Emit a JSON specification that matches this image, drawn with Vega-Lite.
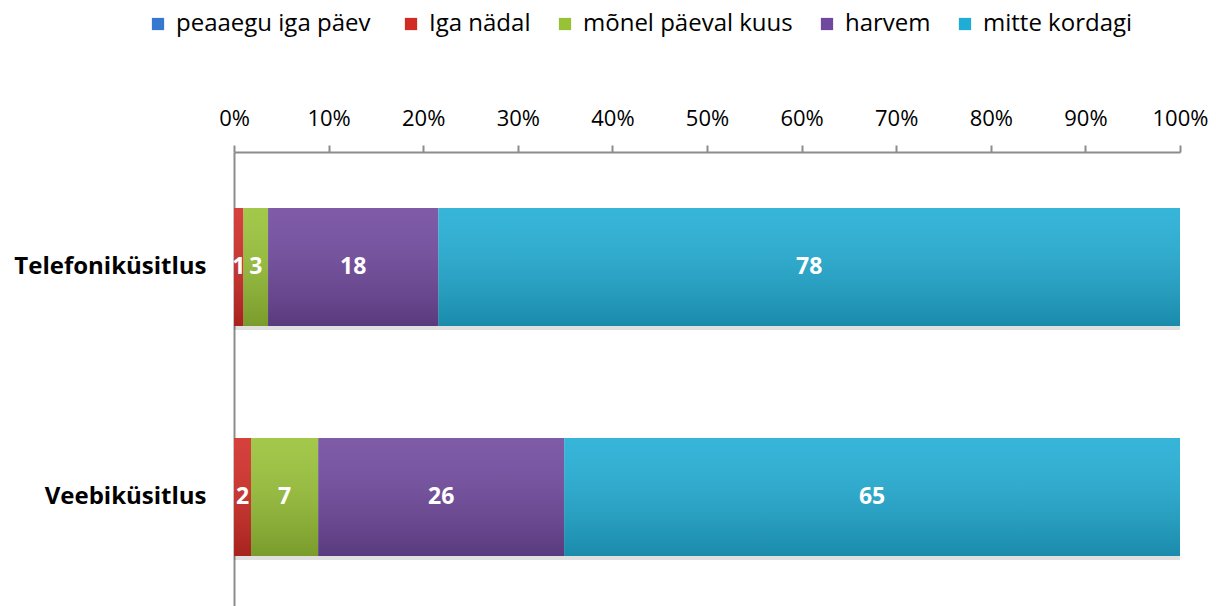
{
  "$schema": "https://vega.github.io/schema/vega-lite/v6.json",
  "autosize": "none",
  "padding": {"left": 234, "top": 152, "right": 36, "bottom": 0},
  "width": 946,
  "height": 460,
  "background": "white",
  "config": {"font": "Open Sans", "view": {"stroke": null}},
  "data": {"values": [
    {"survey": "Telefoniküsitlus", "answer": "peaaegu iga  päev", "k": 1, "value": 0},
    {"survey": "Telefoniküsitlus", "answer": "Iga nädal", "k": 2, "value": 1.0},
    {"survey": "Telefoniküsitlus", "answer": "mõnel päeval kuus", "k": 3, "value": 2.6},
    {"survey": "Telefoniküsitlus", "answer": "harvem", "k": 4, "value": 18.0},
    {"survey": "Telefoniküsitlus", "answer": "mitte kordagi", "k": 5, "value": 78.4},
    {"survey": "Veebiküsitlus", "answer": "peaaegu iga  päev", "k": 1, "value": 0},
    {"survey": "Veebiküsitlus", "answer": "Iga nädal", "k": 2, "value": 1.8},
    {"survey": "Veebiküsitlus", "answer": "mõnel päeval kuus", "k": 3, "value": 7.1},
    {"survey": "Veebiküsitlus", "answer": "harvem", "k": 4, "value": 26.0},
    {"survey": "Veebiküsitlus", "answer": "mitte kordagi", "k": 5, "value": 65.1}
  ]},
  "transform": [
    {"stack": "value", "groupby": ["survey"], "sort": [{"field": "k", "order": "ascending"}], "as": ["v0", "v1"]},
    {"calculate": "(datum.v0 + datum.v1) / 2", "as": "mid"}
  ],
  "encoding": {
    "y": {
      "field": "survey", "type": "nominal", "sort": ["Telefoniküsitlus", "Veebiküsitlus"],
      "scale": {"paddingInner": 0.487, "paddingOuter": 0.2435},
      "axis": {"title": null, "ticks": false, "domainColor": "#8c8c8c", "domainWidth": 2, "labelFontSize": 24, "labelFontWeight": "bold", "labelColor": "black", "labelPadding": 28, "labelFont": "Open Sans", "labelLimit": 300}
    }
  },
  "layer": [
    {
      "mark": {"type": "bar", "color": "#000000", "opacity": 0.12, "yOffset": 4},
      "encoding": {
        "x": {"field": "v0", "type": "quantitative", "scale": {"domain": [0, 100], "nice": false},
          "axis": {"orient": "top", "title": null, "values": [0,10,20,30,40,50,60,70,80,90,100], "labelExpr": "datum.value + '%'", "labelFlush": false, "labelOverlap": false, "grid": false, "domainColor": "#8c8c8c", "domainWidth": 2, "tickColor": "#8c8c8c", "tickWidth": 2, "tickSize": 7, "labelFontSize": 22, "labelColor": "black", "labelPadding": 15}},
        "x2": {"field": "v1"}
      }
    },
    {
      "mark": {"type": "bar"},
      "encoding": {
        "x": {"field": "v0", "type": "quantitative"},
        "x2": {"field": "v1"},
        "color": {
          "field": "answer", "type": "nominal",
          "scale": {
            "domain": ["peaaegu iga  päev", "Iga nädal", "mõnel päeval kuus", "harvem", "mitte kordagi"],
            "range": ["#3678cf", "#d12b25", "#98c236", "#70489e", "#20add5"]
          },
          "legend": {"orient": "none", "legendX": -88, "legendY": -140, "direction": "horizontal", "columns": 5, "title": null, "symbolType": "square", "symbolSize": 150, "symbolStrokeWidth": 0, "symbolOpacity": 1, "labelFontSize": 24, "labelColor": "black", "labelOffset": 6, "columnPadding": 22, "labelLimit": 400}
        }
      }
    },
    {
      "mark": {"type": "bar", "color": {"gradient": "linear", "x1": 0, "y1": 0, "x2": 0, "y2": 1, "stops": [{"offset": 0, "color": "rgba(255,255,255,0.1)"}, {"offset": 1, "color": "rgba(0,0,0,0.2)"}]}},
      "encoding": {
        "x": {"field": "v0", "type": "quantitative"},
        "x2": {"field": "v1"}
      }
    },
    {
      "transform": [{"filter": "datum.value > 0"}],
      "mark": {"type": "text", "color": "white", "fontWeight": "bold", "fontSize": 23, "baseline": "middle", "align": "center"},
      "encoding": {
        "x": {"field": "mid", "type": "quantitative"},
        "text": {"field": "value", "type": "quantitative", "format": ".0f"}
      }
    }
  ]
}
